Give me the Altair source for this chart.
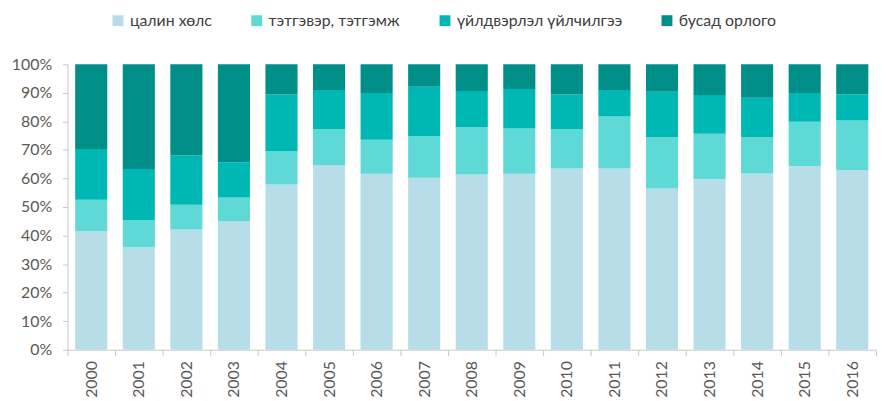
import altair as alt
import pandas as pd

years = [str(y) for y in range(2000, 2017)]
categories = ["цалин хөлс", "тэтгэвэр, тэтгэмж", "үйлдвэрлэл үйлчилгээ", "бусад орлого"]
colors = ["#B7DEE8", "#5FD9D5", "#00B8B3", "#008E89"]

wages =      [41.6, 35.9, 42.1, 45.1, 57.9, 64.7, 61.6, 60.2, 61.4, 61.6, 63.5, 63.5, 56.5, 59.8, 61.7, 64.3, 63.0]
pensions =   [10.9,  9.5,  8.7,  8.2, 11.7, 12.5, 12.0, 14.6, 16.5, 15.9, 13.7, 18.2, 17.9, 15.9, 12.7, 15.6, 17.3]
production = [17.8, 17.9, 17.3, 12.4, 19.8, 13.8, 16.3, 17.3, 12.7, 13.8, 12.2,  9.3, 16.0, 13.5, 13.9, 10.0,  9.2]
other =      [29.7, 36.7, 31.9, 34.3, 10.6,  9.0, 10.1,  7.9,  9.4,  8.7, 10.6,  9.0,  9.6, 10.8, 11.7, 10.1, 10.5]

series = [wages, pensions, production, other]
rows = []
for ci, (cat, vals) in enumerate(zip(categories, series)):
    for y, v in zip(years, vals):
        rows.append({"year": y, "category": cat, "value": v, "order": ci})
df = pd.DataFrame(rows)

FONT = "Lato"
chart = alt.Chart(df).mark_bar(width=alt.RelativeBandSize(0.675)).encode(
    x=alt.X("year:N", sort=years, title=None,
            scale=alt.Scale(paddingInner=0, paddingOuter=0),
            axis=alt.Axis(labelAngle=-90, tickBand="extent", tickSize=6,
                          domainColor="#C8C8C8", tickColor="#C8C8C8",
                          labelPadding=5, labelFontSize=16, labelColor="#595959",
                          labelFont=FONT)),
    y=alt.Y("value:Q", stack="normalize", title=None,
            scale=alt.Scale(domain=[0, 1], nice=False),
            axis=alt.Axis(format=".0%", values=[i / 10 for i in range(11)], grid=False,
                          tickSize=5, domainColor="#C8C8C8", tickColor="#C8C8C8",
                          labelPadding=11, labelFontSize=16, labelColor="#595959",
                          labelFont=FONT)),
    color=alt.Color("category:N", sort=categories,
                    scale=alt.Scale(domain=categories, range=colors),
                    legend=alt.Legend(orient="none", legendX=43, legendY=-52,
                                      direction="horizontal", columns=4, title=None,
                                      symbolType="square", symbolSize=121,
                                      symbolStrokeWidth=0, columnPadding=37,
                                      labelFontSize=16, labelColor="#404040",
                                      labelFont=FONT, labelOffset=4, labelLimit=400)),
    order=alt.Order("order:Q", sort="ascending"),
).properties(
    width=816, height=288,
    autosize=alt.AutoSizeParams(type="none"),
    padding={"left": 60, "top": 55, "right": 4, "bottom": 50},
).configure_view(stroke=None)

chart.save("out.html", embed_options={"renderer": "svg", "actions": False})
